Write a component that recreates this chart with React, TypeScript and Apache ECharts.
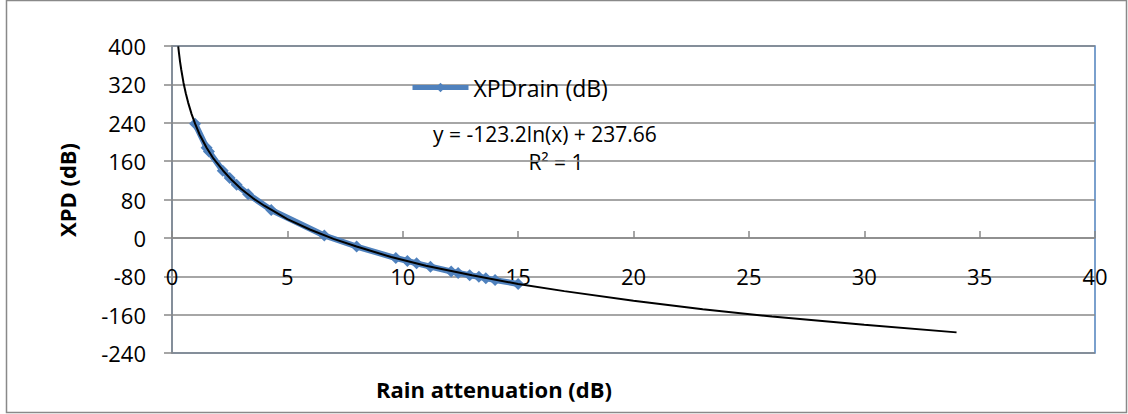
import React, { useEffect, useRef } from "react";
import * as echarts from "echarts";

const seriesName = "XPDrain (dB)";
// Measured points (rain attenuation dB, XPD dB)
const rainAtt = [1.0, 1.5, 1.6, 2.2, 2.5, 2.8, 3.3, 4.3, 6.6, 8.0, 9.7, 10.2, 10.6, 11.2, 12.1, 12.4, 12.9, 13.3, 13.6, 14.0, 15.0];
const xpdRain = [238, 188, 180, 140, 125, 111, 91, 58, 5, -18, -42, -48, -53, -60, -70, -73, -78, -81, -84, -88, -96];
// Logarithmic trendline, points
const trendX = [0.27, 0.3, 0.35, 0.4, 0.5, 0.6, 0.7, 0.85, 1, 1.2, 1.5, 1.8, 2.2, 2.6, 3, 3.5, 4, 5, 6, 7, 8, 9.5, 11, 13, 15, 17, 20, 23, 26, 30, 34];
const trendY = [399, 386, 367, 351, 323, 301, 282, 258, 238, 215, 188, 165, 141, 120, 102, 83, 67, 39, 17, -2, -18, -40, -58, -78, -96, -111, -131, -149, -164, -181, -197];
const equationText = "y = -123.2ln(x) + 237.66";
const r2Text = "R² = 1";
const xTitle = "Rain attenuation (dB)";
const yTitle = "XPD (dB)";

const FONT = "'Open Sans', 'Noto Sans', sans-serif";

export default function App() {
  const ref = useRef<HTMLDivElement>(null);
  useEffect(() => {
    if (!ref.current) return;
    const chart = echarts.init(ref.current, undefined, { renderer: "svg" });
    const gray = "#898989";
    const blue = "#4F81BD";
    chart.setOption({
      animation: false,
      backgroundColor: "#ffffff",
      textStyle: { fontFamily: FONT },
      grid: {
        left: 172,
        right: 33,
        top: 46,
        bottom: 61,
        show: true,
        borderColor: blue,
        borderWidth: 1.5,
        backgroundColor: "transparent",
      },
      legend: {
        data: [seriesName],
        left: 405,
        top: 71,
        itemWidth: 56,
        itemHeight: 12,
        lineStyle: { width: 5, color: blue },
        itemStyle: { color: blue },
        textStyle: { fontSize: 23, color: "#000", fontFamily: FONT },
      },
      xAxis: {
        type: "value",
        position: "bottom",
        offset: -115,
        min: 0,
        max: 40,
        interval: 5,
        axisLine: { onZero: false, lineStyle: { color: gray, width: 1.5 } },
        axisTick: { show: true, inside: true, length: 7, lineStyle: { color: gray, width: 1.5 } },
        axisLabel: { margin: 27, fontSize: 22, color: "#000", fontFamily: FONT },
        splitLine: { show: false },
      },
      yAxis: {
        type: "value",
        min: -240,
        max: 400,
        interval: 80,
        axisLine: { show: true, onZero: false, lineStyle: { color: gray, width: 1.5 } },
        axisTick: { show: true, length: 8, lineStyle: { color: gray, width: 1.5 } },
        axisLabel: { margin: 26, fontSize: 22, color: "#000", fontFamily: FONT },
        splitLine: { show: true, lineStyle: { color: gray, width: 1.5 } },
      },
      series: [
        {
          name: seriesName,
          type: "line",
          data: rainAtt.map((x, i) => [x, xpdRain[i]]),
          symbol: "diamond",
          symbolSize: 12,
          lineStyle: { color: blue, width: 6 },
          itemStyle: { color: blue },
          z: 2,
        },
        {
          name: "trend",
          type: "line",
          data: trendX.map((x, i) => [x, trendY[i]]),
          smooth: false,
          showSymbol: false,
          symbol: "none",
          lineStyle: { color: "#000", width: 2 },
          clip: true,
          z: 3,
        },
      ],
      graphic: [
        {
          type: "rect",
          shape: { x: 6.5, y: 0.5, width: 1120, height: 412 },
          style: { fill: "none", stroke: "#898989", lineWidth: 1.5 },
          silent: true,
        },
        {
          type: "text",
          x: 545,
          y: 134,
          style: { text: equationText, fill: "#000", font: `21px ${FONT}`, align: "center", verticalAlign: "middle" },
        },
        {
          type: "text",
          x: 556,
          y: 162,
          style: { text: r2Text, fill: "#000", font: `21px ${FONT}`, align: "center", verticalAlign: "middle" },
        },
        {
          type: "text",
          x: 494,
          y: 389,
          style: { text: xTitle, fill: "#000", font: `bold 22px ${FONT}`, align: "center", verticalAlign: "middle" },
        },
        {
          type: "text",
          x: 67,
          y: 190,
          rotation: Math.PI / 2,
          style: { text: yTitle, fill: "#000", font: `bold 22px ${FONT}`, align: "center", verticalAlign: "middle" },
        },
      ],
    });
    return () => chart.dispose();
  }, []);
  return <div ref={ref} style={{ position: "fixed", left: 0, top: 0, width: 1128, height: 414 }} />;
}
